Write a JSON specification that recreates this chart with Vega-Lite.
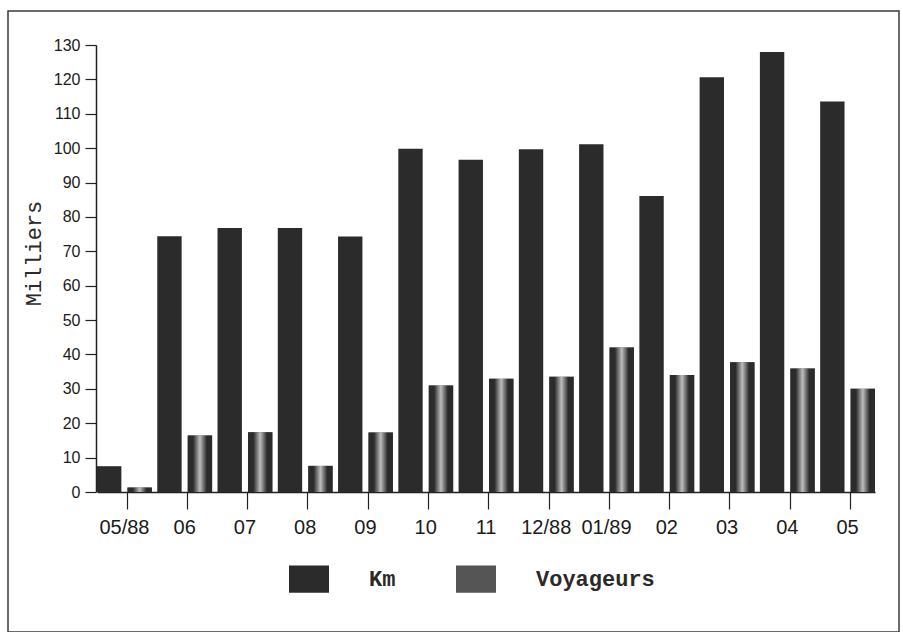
{
  "$schema": "https://vega.github.io/schema/vega-lite/v6.json",
  "width": 891,
  "height": 621,
  "autosize": {"type": "none"},
  "padding": {"left": 8, "top": 11, "right": 4, "bottom": 0},
  "background": "white",
  "config": {
    "view": {"stroke": "#3a3a3a", "strokeWidth": 1.5},
    "axis": {"grid": false, "domainColor": "#222", "tickColor": "#222", "labelColor": "#1a1a1a", "domainWidth": 1.5, "tickWidth": 1.2}
  },
  "data": {
    "values": [
      {"mois": "05/88", "serie": "Km", "valeur": 7.5},
      {"mois": "05/88", "serie": "Voyageurs", "valeur": 1.3},
      {"mois": "06", "serie": "Km", "valeur": 74.4},
      {"mois": "06", "serie": "Voyageurs", "valeur": 16.4},
      {"mois": "07", "serie": "Km", "valeur": 76.8},
      {"mois": "07", "serie": "Voyageurs", "valeur": 17.4},
      {"mois": "08", "serie": "Km", "valeur": 76.8},
      {"mois": "08", "serie": "Voyageurs", "valeur": 7.6},
      {"mois": "09", "serie": "Km", "valeur": 74.3},
      {"mois": "09", "serie": "Voyageurs", "valeur": 17.3},
      {"mois": "10", "serie": "Km", "valeur": 99.8},
      {"mois": "10", "serie": "Voyageurs", "valeur": 31.0},
      {"mois": "11", "serie": "Km", "valeur": 96.6},
      {"mois": "11", "serie": "Voyageurs", "valeur": 32.9},
      {"mois": "12/88", "serie": "Km", "valeur": 99.7},
      {"mois": "12/88", "serie": "Voyageurs", "valeur": 33.5},
      {"mois": "01/89", "serie": "Km", "valeur": 101.1},
      {"mois": "01/89", "serie": "Voyageurs", "valeur": 42.0},
      {"mois": "02", "serie": "Km", "valeur": 86.1},
      {"mois": "02", "serie": "Voyageurs", "valeur": 34.0},
      {"mois": "03", "serie": "Km", "valeur": 120.6},
      {"mois": "03", "serie": "Voyageurs", "valeur": 37.7},
      {"mois": "04", "serie": "Km", "valeur": 128.0},
      {"mois": "04", "serie": "Voyageurs", "valeur": 35.9},
      {"mois": "05", "serie": "Km", "valeur": 113.6},
      {"mois": "05", "serie": "Voyageurs", "valeur": 30.0}
    ]
  },
  "layer": [
    {
      "mark": {"type": "bar"},
      "encoding": {
        "x": {
          "field": "mois", "type": "nominal", "sort": null,
          "scale": {"range": [89, 867], "paddingInner": 0.09, "paddingOuter": 0},
          "axis": {
            "title": null, "labelAngle": 0, "offset": -140, "tickSize": 17, "labelPadding": 8,
            "bandPosition": 0.55, "labelFont": "Liberation Sans", "labelFontSize": 20
          }
        },
        "xOffset": {
          "field": "serie", "type": "nominal", "sort": ["Km", "Voyageurs"],
          "scale": {"paddingInner": 0.2, "paddingOuter": 0}
        },
        "y": {
          "field": "valeur", "type": "quantitative",
          "scale": {"domain": [0, 130], "nice": false, "range": [481, 34]},
          "axis": {
            "title": "Milliers", "values": [0, 10, 20, 30, 40, 50, 60, 70, 80, 90, 100, 110, 120, 130],
            "offset": -88, "tickSize": 11, "labelPadding": 5,
            "labelFont": "Liberation Sans", "labelFontSize": 16,
            "titleFont": "Liberation Mono", "titleFontSize": 22, "titleFontWeight": "normal", "titleColor": "#2a2a2a",
            "titleX": -63, "titleY": 242, "titleAngle": -90, "titleAlign": "center", "titleBaseline": "middle"
          }
        },
        "color": {
          "field": "serie", "type": "nominal", "sort": ["Km", "Voyageurs"],
          "scale": {"range": ["#2b2b2b", "#555555"]},
          "legend": {
            "title": null, "orient": "none", "legendX": 281, "legendY": 548, "direction": "horizontal",
            "padding": 0, "symbolType": "M-1,-0.68H1V0.68H-1Z", "symbolSize": 1600, "symbolStrokeWidth": 0,
            "symbolOpacity": 1, "labelFont": "Liberation Mono", "labelFontSize": 22, "labelFontWeight": "bold",
            "labelColor": "#2a2a2a", "labelOffset": 40, "columnPadding": 60, "labelLimit": 400
          }
        }
      }
    },
    {
      "transform": [{"filter": "datum.serie === 'Voyageurs'"}],
      "mark": {
        "type": "bar",
        "fill": {
          "gradient": "linear", "x1": 0, "x2": 1, "y1": 0, "y2": 0,
          "stops": [
            {"offset": 0, "color": "#2b2b2b"},
            {"offset": 0.22, "color": "#2b2b2b"},
            {"offset": 0.5, "color": "#bdbdbd"},
            {"offset": 0.78, "color": "#2b2b2b"},
            {"offset": 1, "color": "#2b2b2b"}
          ]
        }
      },
      "encoding": {
        "x": {"field": "mois", "type": "nominal", "sort": null},
        "xOffset": {"field": "serie", "type": "nominal", "sort": ["Km", "Voyageurs"]},
        "y": {"field": "valeur", "type": "quantitative"}
      }
    }
  ]
}
